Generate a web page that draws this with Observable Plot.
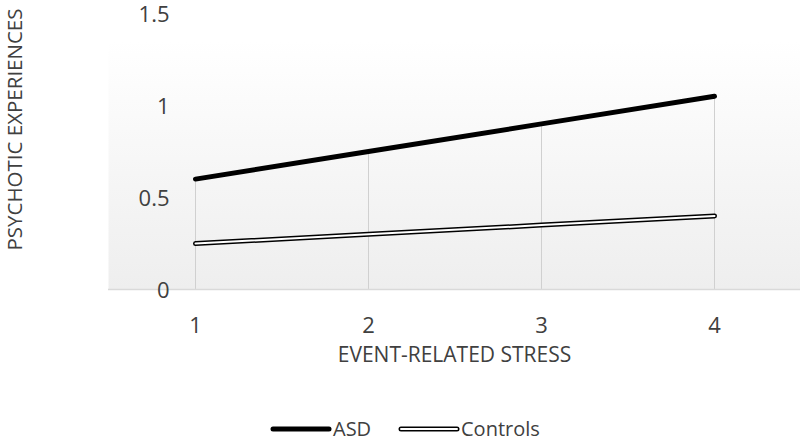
<!DOCTYPE html>
<html><head><meta charset="utf-8">
<script src="https://cdn.jsdelivr.net/npm/d3@7"></script>
<script src="https://cdn.jsdelivr.net/npm/@observablehq/plot@0.6"></script>
<style>
body{margin:0;background:#fff;font-family:"Open Sans",sans-serif;color:#404040;}
#legend{position:relative;width:800px;height:61px;}
.item{position:absolute;top:38px;display:flex;align-items:center;font-size:20px;line-height:22px;}
</style></head><body>
<div id="chart"></div>
<div id="legend"></div>
<script>
const stress = [1, 2, 3, 4];
const asd = [0.6, 0.75, 0.9, 1.05];
const controls = [0.25, 0.3, 0.35, 0.4];
const yTicks = [0, 0.5, 1, 1.5];
const seriesNames = ["ASD", "Controls"];

const asdData = stress.map((s, i) => ({s, v: asd[i]}));
const ctlData = stress.map((s, i) => ({s, v: controls[i]}));
const maxData = stress.map((s, i) => ({s, v: Math.max(asd[i], controls[i])}));

const chart = Plot.plot({
  width: 800, height: 380,
  marginTop: 13, marginBottom: 91, marginLeft: 108, marginRight: 0,
  style: {fontFamily: "Open Sans, sans-serif", fontSize: "18px", color: "#404040", background: "transparent"},
  x: {type: "point", domain: stress, padding: 0.5, axis: null},
  y: {domain: [0, 1.5], axis: null},
  marks: [
    Plot.frame({fill: "url(#bggrad)", stroke: "none"}),
    Plot.ruleX(maxData, {x: "s", y1: 0, y2: "v", stroke: "#d0d0d0", strokeWidth: 1}),
    Plot.ruleY([0], {stroke: "#d9d9d9", strokeWidth: 1.3}),
    Plot.text(yTicks, {x: () => 1, y: d => d, text: d => String(d), frameAnchor: "left", textAnchor: "end", dx: -26, dy: 1, fill: "#404040", fontSize: 22}),
    Plot.text(stress, {x: d => d, y: () => 0, text: d => String(d), dy: 36, fill: "#404040", fontSize: 22}),
    Plot.text(["EVENT-RELATED STRESS"], {frameAnchor: "bottom", dy: 72, text: d => d, fill: "#404040", fontSize: 21, dx: 0}),
    Plot.text(["PSYCHOTIC EXPERIENCES"], {frameAnchor: "left", textAnchor: "middle", dx: -93, dy: -22, rotate: -90, text: d => d, fill: "#404040", fontSize: 20.5}),
    Plot.line(ctlData, {x: "s", y: "v", stroke: "#000", strokeWidth: 5, strokeLinecap: "round"}),
    Plot.line(ctlData, {x: "s", y: "v", stroke: "#fff", strokeWidth: 2, strokeLinecap: "round"}),
    Plot.line(asdData, {x: "s", y: "v", stroke: "#000", strokeWidth: 5, strokeLinecap: "round"})
  ]
});
const defs = document.createElementNS("http://www.w3.org/2000/svg", "defs");
defs.innerHTML = '<linearGradient id="bggrad" x1="0" y1="0" x2="0" y2="1"><stop offset="0" stop-color="#ffffff"/><stop offset="0.1" stop-color="#ffffff"/><stop offset="1" stop-color="#eeeeee"/></linearGradient>';
chart.insertBefore(defs, chart.firstChild);
document.getElementById("chart").appendChild(chart);

const legend = document.getElementById("legend");
const lx = [270, 398];
seriesNames.forEach((name, i) => {
  const it = document.createElement("div");
  it.className = "item";
  it.style.left = lx[i] + "px";
  const sw = i === 0
    ? '<svg width="62" height="8"><line x1="3" y1="4" x2="59" y2="4" stroke="#000" stroke-width="5" stroke-linecap="round"/></svg>'
    : '<svg width="62" height="8"><line x1="3" y1="4" x2="59" y2="4" stroke="#000" stroke-width="5" stroke-linecap="round"/><line x1="3" y1="4" x2="59" y2="4" stroke="#fff" stroke-width="2" stroke-linecap="round"/></svg>';
  it.innerHTML = sw + '<span style="margin-left:1px">' + name + '</span>';
  legend.appendChild(it);
});
</script>
</body></html>
